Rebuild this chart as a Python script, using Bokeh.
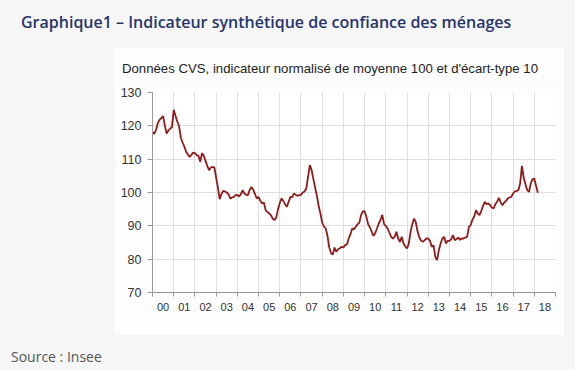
from bokeh.plotting import figure
from bokeh.models import FixedTicker, Div, Spacer, GlobalInlineStyleSheet, ColumnDataSource
from bokeh.layouts import column, row
from bokeh.embed import file_html
from bokeh.resources import INLINE

# ---- data (monthly, Jan 2000 - Mar 2018) ----
years = list(range(2000, 2019))
year_labels = ["00", "01", "02", "03", "04", "05", "06", "07", "08", "09",
               "10", "11", "12", "13", "14", "15", "16", "17", "18"]
y_ticks = [70, 80, 90, 100, 110, 120, 130]

conf_2000 = [118.2, 117.6, 118.8, 120.8, 121.8, 122.3, 122.9, 120.0, 117.7, 118.6, 119.2, 119.6]
conf_2001 = [124.8, 123.0, 121.3, 120.0, 116.5, 115.0, 113.8, 112.2, 111.4, 110.7, 111.3, 112.0]
conf_2002 = [111.8, 111.2, 111.0, 109.2, 111.8, 111.0, 109.5, 108.0, 106.7, 107.5, 107.7, 107.5]
conf_2003 = [104.5, 101.5, 98.0, 99.5, 100.5, 100.3, 100.0, 99.5, 98.2, 98.5, 98.7, 99.2]
conf_2004 = [99.3, 98.8, 99.5, 100.7, 99.7, 99.3, 99.2, 100.8, 101.7, 100.8, 99.5, 98.2]
conf_2005 = [98.7, 97.5, 96.7, 97.0, 94.7, 94.2, 93.7, 93.2, 92.2, 91.7, 92.5, 95.0]
conf_2006 = [96.8, 98.2, 97.5, 96.5, 95.7, 97.2, 98.7, 98.5, 99.7, 99.3, 99.0, 99.2]
conf_2007 = [99.3, 100.0, 100.3, 101.2, 104.7, 108.2, 106.8, 104.0, 101.5, 99.0, 96.0, 93.7]
conf_2008 = [91.0, 89.8, 89.2, 87.0, 83.5, 81.8, 81.4, 83.5, 82.2, 83.0, 83.3, 83.7]
conf_2009 = [83.5, 84.2, 84.4, 86.2, 87.5, 89.2, 89.0, 89.7, 90.5, 90.9, 93.2, 94.3]
conf_2010 = [94.4, 92.7, 90.5, 89.5, 88.3, 87.0, 87.8, 89.2, 90.7, 91.8, 93.3, 90.5]
conf_2011 = [90.0, 89.2, 88.0, 86.7, 86.2, 86.7, 88.2, 86.2, 85.2, 86.7, 84.7, 83.8]
conf_2012 = [83.2, 84.7, 88.2, 90.5, 92.2, 91.0, 88.2, 86.5, 85.5, 85.2, 85.7, 86.2]
conf_2013 = [86.2, 85.5, 83.7, 84.2, 80.7, 79.7, 82.7, 84.7, 86.2, 86.7, 84.7, 85.5]
conf_2014 = [85.5, 86.0, 87.2, 85.7, 86.0, 86.5, 85.8, 86.2, 86.2, 86.5, 86.7, 89.7]
conf_2015 = [90.2, 91.8, 92.8, 94.7, 93.7, 93.2, 94.5, 96.0, 97.2, 96.5, 96.7, 96.2]
conf_2016 = [95.5, 95.2, 96.5, 97.3, 98.4, 97.0, 96.2, 97.0, 97.5, 98.2, 98.5, 98.7]
conf_2017 = [99.7, 100.3, 100.5, 100.7, 102.7, 108.0, 104.5, 102.5, 100.7, 100.2, 102.7, 104.0]
conf_2018 = [104.2, 102.0, 99.9]

confidence = (conf_2000 + conf_2001 + conf_2002 + conf_2003 + conf_2004 + conf_2005 +
              conf_2006 + conf_2007 + conf_2008 + conf_2009 + conf_2010 + conf_2011 +
              conf_2012 + conf_2013 + conf_2014 + conf_2015 + conf_2016 + conf_2017 +
              conf_2018)
month_index = list(range(len(confidence)))  # months since Jan 2000

boundaries = [12 * (y - years[0]) for y in years + [years[-1] + 1]]
label_pos = [12 * (y - years[0]) + 6 for y in years]

src = ColumnDataSource(data=dict(m=month_index, v=confidence))

p = figure(width=450, height=251, x_range=(0, boundaries[-1]), y_range=(y_ticks[0], y_ticks[-1]),
           output_backend="svg", toolbar_location=None,
           min_border_left=38, min_border_right=9, min_border_top=8, min_border_bottom=43,
           background_fill_color="white", border_fill_color="#fdfdfd")
p.margin = 0
p.outline_line_color = None

p.line("m", "v", source=src, line_color="#8f1b1b", line_width=1.8)

# x axis
xa = p.xaxis[0]
xa.ticker = FixedTicker(ticks=label_pos, minor_ticks=boundaries)
xa.major_label_overrides = {pos: lab for pos, lab in zip(label_pos, year_labels)}
xa.major_tick_line_color = None
xa.major_tick_out = 0
xa.major_tick_in = 0
xa.minor_tick_out = 4
xa.minor_tick_in = 0
xa.minor_tick_line_color = "#999999"
xa.axis_line_color = "#999999"
xa.major_label_text_font = "Liberation Sans"
xa.major_label_text_font_size = "11px"
xa.major_label_text_color = "#333333"
xa.major_label_standoff = 6

# y axis
ya = p.yaxis[0]
ya.ticker = FixedTicker(ticks=y_ticks)
ya.major_tick_out = 5
ya.major_tick_in = 0
ya.major_tick_line_color = "#999999"
ya.minor_tick_line_color = None
ya.axis_line_color = "#999999"
ya.major_label_text_font = "Liberation Sans"
ya.major_label_text_font_size = "12.5px"
ya.major_label_text_color = "#333333"
ya.major_label_standoff = 6

p.xgrid.ticker = FixedTicker(ticks=boundaries)
p.xgrid.grid_line_color = "#dedede"
p.ygrid.grid_line_color = "#dedede"

title_div = Div(
    text="<div style=\"font-family:'Open Sans';font-size:16px;font-weight:600;color:#27356b;"
         "line-height:1.36;padding:4px 0 0 13px;white-space:nowrap\">"
         "Graphique1 – Indicateur synthétique de confiance des ménages</div>",
    width=559, height=40, margin=0)
subtitle_div = Div(
    text="<div style=\"font-family:'Liberation Sans';font-size:13.2px;color:#222222;"
         "background:#fdfdfd;width:450px;height:36px;box-sizing:border-box;"
         "line-height:16px;padding:13px 0 0 8px;white-space:nowrap\">"
         "Données CVS, indicateur normalisé de moyenne 100 et d'écart-type 10</div>",
    width=450, height=36, margin=0)
source_div = Div(
    text="<div style=\"font-family:'Open Sans';font-size:14px;color:#555555;"
         "line-height:1.36;padding:12px 0 0 3px;white-space:nowrap\">Source : Insee</div>",
    width=559, height=27, margin=0)

panel = column(subtitle_div, p, margin=0)
inner = column(title_div, row(Spacer(width=106, height=287, margin=0), panel, margin=0),
               source_div, margin=0)
layout = column(Spacer(width=567, height=8, margin=0),
                row(Spacer(width=8, height=354, margin=0), inner, margin=0),
                margin=0)
layout.stylesheets = [GlobalInlineStyleSheet(css="body{background:#f6f6f6;}")]

open("out.html", "w").write(file_html(layout, INLINE))
